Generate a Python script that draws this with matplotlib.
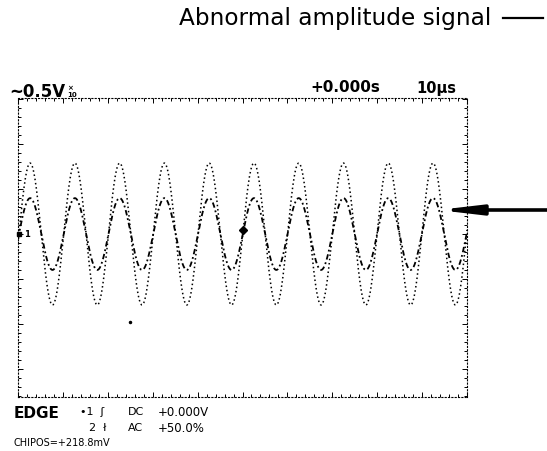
import numpy as np
import matplotlib.pyplot as plt
from matplotlib.lines import Line2D
from matplotlib.ticker import MultipleLocator

# screen settings
time_per_div_us = 10
n_div_x = 10
ylim_div = (-3.63, 3.03)

# the two traces (amplitude in divisions, period and first peak in microseconds)
trace_names = ['normal', 'abnormal']
trace_amp_div = [0.80, 1.58]
trace_period_us = [9.97, 9.97]
trace_first_peak_us = [2.7, 2.7]
trace_offset_div = [0.0, 0.0]

# trigger mark and channel mark
trigger_t_us, trigger_y_div = 50.0, 0.10
chan_t_us, chan_y_div = 0.3, 0.0
stray_dot = (25.0, -1.96)

W, H = 547, 451


def fx(x):
    return x / W


def fy(y):
    return 1 - y / H


fig = plt.figure(figsize=(W / 100, H / 100), dpi=100)
ax = fig.add_axes([fx(18), fy(397), (467 - 18) / W, (397 - 98) / H])

t = np.linspace(0, n_div_x * time_per_div_us, 3000)
styles = {'normal': dict(ls=(0, (3, 1.6, 1, 1.6)), lw=1.3),
          'abnormal': dict(ls=(0, (1, 1.8)), lw=1.1)}
for name, a, p, t0, off in zip(trace_names, trace_amp_div, trace_period_us,
                               trace_first_peak_us, trace_offset_div):
    y = off + a * np.cos(2 * np.pi * (t - t0) / p)
    ax.plot(t, y, color='black', **styles[name])

ax.plot(trigger_t_us, trigger_y_div, marker='D', ms=4.5, color='black')
ax.plot(*stray_dot, marker='o', ms=1.5, color='black')
ax.plot(chan_t_us, chan_y_div, marker='s', ms=3.5, color='black', clip_on=False)
ax.text(chan_t_us + 1.1, chan_y_div, '1', fontsize=6, fontweight='bold',
        va='center', ha='left')

ax.set_xlim(0, n_div_x * time_per_div_us)
ax.set_ylim(*ylim_div)
ax.xaxis.set_major_locator(MultipleLocator(time_per_div_us))
ax.xaxis.set_minor_locator(MultipleLocator(time_per_div_us / 5))
ax.yaxis.set_major_locator(MultipleLocator(1))
ax.yaxis.set_minor_locator(MultipleLocator(0.2))
ax.tick_params(which='both', direction='in', top=True, right=True,
               labelbottom=False, labelleft=False, width=0.7)
ax.tick_params(which='major', length=3.5)
ax.tick_params(which='minor', length=2)
for s in ax.spines.values():
    s.set_linestyle((0, (1, 2)))
    s.set_linewidth(0.8)

# header with legend dash
fig.text(fx(179), fy(25), 'Abnormal amplitude signal', fontsize=16.7,
         family='DejaVu Sans', va='baseline', ha='left')
fig.add_artist(Line2D([fx(503), fx(543)], [fy(17.5), fy(17.5)], lw=1.6, color='black'))

# pointer arrow
ax.annotate('', xy=(438, H - 210), xytext=(W, H - 210), xycoords='figure pixels',
            textcoords='figure pixels',
            arrowprops=dict(arrowstyle='-|>,head_length=2.4,head_width=0.28',
                            lw=2.6, color='black', shrinkA=0, shrinkB=0))

# scope readouts
scope = dict(family='DejaVu Sans', color='black')
fig.text(fx(9), fy(92), '~0.5V', fontsize=12, fontweight='bold', va='center', **scope)
fig.text(fx(67), fy(88), '\u00d7', fontsize=5, fontweight='bold', va='center', **scope)
fig.text(fx(67), fy(95), '10', fontsize=5, fontweight='bold', va='center', **scope)
fig.text(fx(310), fy(88), '+0.000s', fontsize=11, fontweight='bold', va='center', **scope)
fig.text(fx(416), fy(88), '10\u00b5s', fontsize=10.5, fontweight='bold', va='center', **scope)

fig.text(fx(14), fy(413), 'EDGE', fontsize=11, fontweight='bold', va='center', **scope)
fig.text(fx(80), fy(412), '\u20221  \u0283', fontsize=8, va='center', **scope)
fig.text(fx(128), fy(412), 'DC', fontsize=8, va='center', **scope)
fig.text(fx(158), fy(412), '+0.000V', fontsize=8.5, va='center', **scope)
fig.text(fx(89), fy(428), '2  \u0142', fontsize=8, va='center', **scope)
fig.text(fx(128), fy(428), 'AC', fontsize=8, va='center', **scope)
fig.text(fx(158), fy(428), '+50.0%', fontsize=8.5, va='center', **scope)
fig.text(fx(14), fy(443), 'CHIPOS=+218.8mV', fontsize=7, va='center', **scope)

fig.savefig('out.png', dpi=100)
